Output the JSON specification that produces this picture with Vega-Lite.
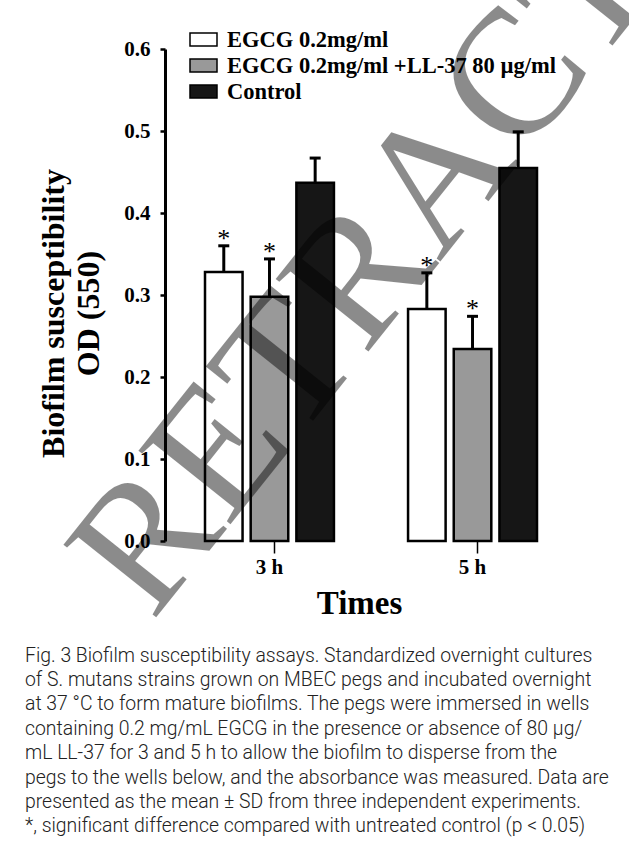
{
  "$schema": "https://vega.github.io/schema/vega-lite/v6.json",
  "width": 441,
  "height": 492,
  "autosize": {"type": "none"},
  "padding": {"left": 165, "top": 49, "right": 23, "bottom": 314},
  "background": "white",
  "config": {
    "view": {"stroke": null},
    "font": "Liberation Serif"
  },
  "title": {
    "text": [
      "Fig. 3 Biofilm susceptibility assays. Standardized overnight cultures",
      "of S. mutans strains grown on MBEC pegs and incubated overnight",
      "at 37 °C to form mature biofilms. The pegs were immersed in wells",
      "containing 0.2 mg/mL EGCG in the presence or absence of 80 µg/",
      "mL LL-37 for 3 and 5 h to allow the biofilm to disperse from the",
      "pegs to the wells below, and the absorbance was measured. Data are",
      "presented as the mean ± SD from three independent experiments.",
      "*, significant difference compared with untreated control (p < 0.05)"
    ],
    "orient": "bottom",
    "anchor": "start",
    "frame": "group",
    "align": "left",
    "dx": -140,
    "offset": 2,
    "font": "Roboto",
    "fontWeight": 300,
    "fontSize": 19.4,
    "lineHeight": 24.4,
    "color": "#222222"
  },
  "data": {
    "values": [
      {"time": "3 h", "group": "EGCG 0.2mg/ml", "value": 0.328, "upper": 0.360, "sig": "*"},
      {"time": "3 h", "group": "EGCG 0.2mg/ml +LL-37 80 µg/ml", "value": 0.298, "upper": 0.344, "sig": "*"},
      {"time": "3 h", "group": "Control", "value": 0.437, "upper": 0.467, "sig": ""},
      {"time": "5 h", "group": "EGCG 0.2mg/ml", "value": 0.283, "upper": 0.327, "sig": "*"},
      {"time": "5 h", "group": "EGCG 0.2mg/ml +LL-37 80 µg/ml", "value": 0.234, "upper": 0.274, "sig": "*"},
      {"time": "5 h", "group": "Control", "value": 0.455, "upper": 0.499, "sig": ""}
    ]
  },
  "encoding": {
    "x": {
      "field": "time",
      "type": "nominal",
      "scale": {"range": [40, 372], "paddingInner": 0.365, "paddingOuter": 0},
      "axis": {
        "domain": false,
        "labelAngle": 0,
        "labelFont": "Liberation Serif",
        "labelFontWeight": "bold",
        "labelFontSize": 21,
        "labelColor": "black",
        "labelPadding": 3,
        "tickSize": 12,
        "tickWidth": 1.5,
        "tickColor": "black",
        "bandPosition": 0.54,
        "title": "Times",
        "titleFont": "Liberation Serif",
        "titleFontWeight": "bold",
        "titleFontSize": 33,
        "titleColor": "black",
        "titleX": 194,
        "titleY": 72,
        "titleBaseline": "alphabetic",
        "titleAlign": "center"
      }
    },
    "xOffset": {
      "field": "group",
      "type": "nominal",
      "scale": {
        "domain": ["EGCG 0.2mg/ml", "EGCG 0.2mg/ml +LL-37 80 µg/ml", "Control"],
        "paddingInner": 0.178,
        "paddingOuter": 0
      }
    }
  },
  "layer": [
    {
      "mark": {"type": "bar", "stroke": "black", "strokeWidth": 2.5},
      "encoding": {
        "y": {
          "field": "value",
          "type": "quantitative",
          "scale": {"domain": [0, 0.6], "nice": false, "zero": true},
          "axis": {
            "values": [0, 0.1, 0.2, 0.3, 0.4, 0.5, 0.6],
            "format": ".1f",
            "grid": false,
            "domainColor": "black",
            "domainWidth": 3,
            "tickColor": "black",
            "tickSize": 5,
            "tickWidth": 2.5,
            "labelFont": "Liberation Serif",
            "labelFontWeight": "bold",
            "labelFontSize": 21,
            "labelColor": "black",
            "labelPadding": 10,
            "title": ["Biofilm susceptibility", "OD (550)"],
            "titleFont": "Liberation Serif",
            "titleFontWeight": "bold",
            "titleFontSize": 32,
            "titleLineHeight": 35,
            "titleColor": "black",
            "titleAngle": 270,
            "titleX": -112,
            "titleY": 264,
            "titleBaseline": "middle",
            "titleAlign": "center"
          }
        },
        "color": {
          "field": "group",
          "type": "nominal",
          "scale": {
            "domain": ["EGCG 0.2mg/ml", "EGCG 0.2mg/ml +LL-37 80 µg/ml", "Control"],
            "range": ["#ffffff", "#999999", "#161616"]
          },
          "legend": {
            "orient": "none",
            "legendX": 24,
            "legendY": -24,
            "title": null,
            "padding": 0,
            "labelFont": "Liberation Serif",
            "labelFontWeight": "bold",
            "labelFontSize": 22.5,
            "labelColor": "black",
            "labelLimit": 600,
            "labelOffset": 9,
            "symbolType": "M-1,-0.48H1V0.48H-1Z",
            "symbolSize": 729,
            "symbolStrokeColor": "black",
            "symbolStrokeWidth": 1.5,
            "symbolOpacity": 1,
            "rowPadding": 0
          }
        }
      }
    },
    {
      "mark": {"type": "rule", "color": "black", "strokeWidth": 3},
      "encoding": {
        "y": {"field": "value", "type": "quantitative"},
        "y2": {"field": "upper"}
      }
    },
    {
      "mark": {"type": "tick", "color": "black", "thickness": 3, "size": 11, "opacity": 1},
      "encoding": {
        "y": {"field": "upper", "type": "quantitative"}
      }
    },
    {
      "mark": {"type": "text", "font": "Liberation Serif", "fontSize": 26, "baseline": "alphabetic", "dy": 1, "fill": "#000000", "opacity": 1},
      "encoding": {
        "y": {"field": "upper", "type": "quantitative"},
        "text": {"field": "sig"}
      }
    },
    {
      "mark": {"type": "rule", "color": "black", "strokeWidth": 3},
      "encoding": {
        "x": {"value": null},
        "xOffset": {"value": null},
        "y": {"datum": 0, "type": "quantitative"}
      }
    },
    {
      "data": {"values": [{"mark": "RETRACTED"}]},
      "mark": {"type": "text", "font": "Liberation Serif", "fontSize": 180, "angle": 308.6, "align": "center", "baseline": "middle", "color": "black", "opacity": 0.45, "dx": 75, "dy": -18},
      "encoding": {
        "x": {"datum": "5 h", "type": "nominal"},
        "xOffset": {"value": null},
        "y": {"datum": 0.362, "type": "quantitative"},
        "text": {"field": "mark"}
      }
    }
  ]
}
